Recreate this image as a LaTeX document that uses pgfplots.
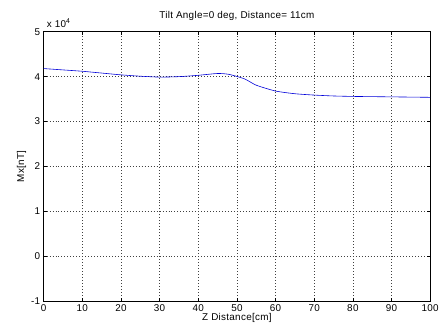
\documentclass[border=0pt]{standalone}
\usepackage{pgfplots}
\pgfplotsset{compat=1.18}
\usepackage{fontspec}
\setmainfont{Liberation Sans}[LetterSpace=3]
\begin{document}
\begin{tikzpicture}
\path (-44bp,-32bp) rectangle (398bp,304bp);
\begin{axis}[
  at={(0,0)}, anchor=south west,
  scale only axis, width=390bp, height=272bp,
  xmin=0, xmax=100, ymin=-1, ymax=5,
  xtick={0,10,...,100}, ytick={-1,0,...,5},
  grid=major, major grid style={black!75, dash pattern=on 0.7bp off 2.3bp, line width=0.6pt},
  tick align=inside, major tick length=3bp,
  axis line style={black, line width=0.6pt},
  tick style={black, line width=0.5pt},
  ticklabel style={font=\fontsize{10}{11}\selectfont},
  /pgf/number format/assume math mode=true,
  title={Tilt Angle=0 deg, Distance= 11cm},
  title style={font=\fontsize{10}{11}\selectfont, at={(0.5,1)}, anchor=south, yshift=2bp},
  xlabel={Z Distance[cm]}, ylabel={Mx[nT]},
  xlabel style={font=\fontsize{10}{11}\selectfont, yshift=5bp},
  ylabel style={font=\fontsize{10}{11}\selectfont, yshift=-2bp},
  clip=false,
]
\addplot[blue!85!black, line width=0.6pt, smooth, tension=0.4] coordinates {
(0,4.18) (5,4.15) (10,4.12) (15,4.08) (20,4.04) (25,4.01) (30,3.99) (35,4.00)
(40,4.03) (45,4.07) (48,4.05) (52,3.95) (55,3.81) (60,3.68) (65,3.62) (70,3.59)
(75,3.57) (80,3.56) (85,3.555) (90,3.55) (95,3.545) (100,3.54)};
\node[anchor=south west, font=\fontsize{10}{11}\selectfont, inner sep=0pt] at (rel axis cs:0,1) [xshift=3bp, yshift=4bp] {x 10\textsuperscript{4}};
\end{axis}
\end{tikzpicture}
\end{document}
